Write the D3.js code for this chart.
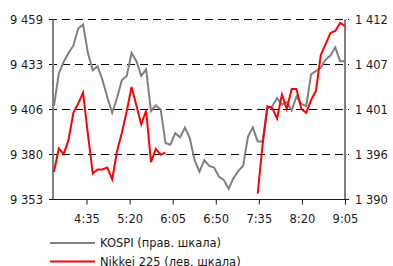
<!DOCTYPE html>
<html>
<head>
<meta charset="utf-8">
<script src="https://cdn.jsdelivr.net/npm/d3@7"></script>
<style>
  body { margin: 0; background: #fff; }
  text { font-family: "DejaVu Sans", Verdana, sans-serif; font-size: 11.5px; fill: #1a1a1a; }
</style>
</head>
<body>
<div id="chart"></div>
<script>
// data (5-minute samples, Moscow time)
var firstTime = "4:01", lastTime = "9:05";
var tickTimes = ["4:35", "5:20", "6:05", "6:50", "7:35", "8:20", "9:05"];
var leftTicks = [9353, 9379.5, 9406, 9432.5, 9459];
var rightTicks = [1390, 1395.5, 1401, 1406.5, 1412];

var kospi = [1401.4, 1405.4, 1406.8, 1407.9, 1408.8, 1410.9, 1411.4, 1407.9, 1405.8, 1406.3,
  1404.6, 1402.5, 1400.6, 1402.4, 1404.6, 1405.1, 1407.9, 1406.9, 1405.1, 1405.9,
  1400.8, 1401.5, 1401.0, 1396.9, 1396.7, 1398.1, 1397.6, 1398.8, 1397.5, 1394.8,
  1393.4, 1394.8, 1394.1, 1393.9, 1392.8, 1392.4, 1391.3, 1392.6, 1393.5, 1394.1,
  1397.7, 1398.8, 1397.1, 1397.1, 1401.1, 1401.4, 1402.4, 1401.6, 1401.9, 1400.9,
  1402.6, 1401.7, 1401.4, 1405.3, 1405.7, 1406.1, 1407.1, 1407.6, 1408.6, 1406.9, 1406.9];

var nikkei = [9369.3, 9383, 9379.7, 9388.1, 9404, 9409.5, 9415.9, 9391.5, 9368.3, 9370.7,
  9370.7, 9371.8, 9364.8, 9381.4, 9392.3, 9405, 9419.3, 9408.2, 9397.3, 9405.3,
  9375, 9382.8, 9379.4, 9380.6, null, null, null, null, null, null,
  null, null, null, null, null, null, null, null, null, null,
  null, null, 9356.5, 9385, 9407.9, 9406.9, 9400.7, 9414.8, 9406.2, 9418.1,
  9418.1, 9406.3, 9404, 9411.5, 9417, 9438, 9444.5, 9451.1, 9452.2, 9457, 9455.1];

var legendItems = ["KOSPI (прав. шкала)", "Nikkei 225 (лев. шкала)"];
var colors = ["#808080", "#ff0000"];

// margins
var margin = {top: 19.5, right: 48, bottom: 66.5, left: 53},
  width = 393 - margin.left - margin.right,
  height = 266 - margin.top - margin.bottom;

var parse = d3.timeParse("%H:%M");
var fmtNum = d3.formatLocale({decimal: ",", thousands: " ", grouping: [3], currency: ["", ""]}).format(",d");

var x = d3.scaleTime().domain([parse("4:00"), parse("9:05")]).range([0, width]);
var yL = d3.scaleLinear().domain([9353, 9459]).range([height, 0]);
var yR = d3.scaleLinear().domain([1390, 1412]).range([height, 0]);

// sample times, evenly spread between first and last sample
var sampleTime = d3.scaleLinear().domain([0, kospi.length - 1])
  .range([parse(firstTime).getTime(), parse(lastTime).getTime()]);

var svg = d3.select("#chart").append("svg")
    .attr("width", 393)
    .attr("height", 266)
  .append("g")
    .attr("transform", `translate(${margin.left}, ${margin.top})`);

// dashed grid lines
svg.selectAll("line.grid")
    .data(leftTicks)
  .enter().append("line")
    .attr("x1", -4).attr("x2", width + 4)
    .attr("y1", d => yL(d)).attr("y2", d => yL(d))
    .attr("stroke", "#000")
    .attr("stroke-width", 1)
    .attr("stroke-dasharray", "8,5");

// left labels
svg.selectAll("text.left")
    .data(leftTicks)
  .enter().append("text")
    .attr("x", -10)
    .attr("y", d => yL(d))
    .attr("dy", "0.36em")
    .style("text-anchor", "end")
    .text(d => fmtNum(Math.round(d)));

// right labels
svg.selectAll("text.right")
    .data(rightTicks)
  .enter().append("text")
    .attr("x", width + 10)
    .attr("y", d => yR(d))
    .attr("dy", "0.36em")
    .text(d => fmtNum(Math.round(d)));

// vertical axis lines
svg.append("line")
    .attr("x1", 0).attr("x2", 0).attr("y1", 0).attr("y2", height)
    .attr("stroke", "#808080").attr("stroke-width", 2);
svg.append("line")
    .attr("x1", width).attr("x2", width).attr("y1", 0).attr("y2", height)
    .attr("stroke", "#808080").attr("stroke-width", 2);

// bottom axis
var xAxis = svg.append("g")
    .attr("transform", `translate(0, ${height})`)
    .call(d3.axisBottom(x)
        .tickValues(tickTimes.map(parse))
        .tickFormat(d3.timeFormat("%-H:%M"))
        .tickSize(5)
        .tickSizeOuter(0)
        .tickPadding(10));
xAxis.select(".domain").attr("stroke", "#1a1a1a").attr("d", `M-4,0H${width + 4}`);
xAxis.selectAll(".tick line").attr("stroke", "#1a1a1a");
xAxis.selectAll("text").attr("font-family", null).attr("font-size", null).attr("fill", null);
xAxis.attr("font-family", null).attr("font-size", null);

// lines
var kospiLine = d3.line()
    .x((d, i) => x(sampleTime(i)))
    .y(d => yR(d));
var nikkeiLine = d3.line()
    .defined(d => d != null)
    .x((d, i) => x(sampleTime(i)))
    .y(d => yL(d));

svg.append("path")
    .datum(kospi)
    .attr("fill", "none")
    .attr("stroke", colors[0])
    .attr("stroke-width", 2)
    .attr("d", kospiLine);

svg.append("path")
    .datum(nikkei)
    .attr("fill", "none")
    .attr("stroke", colors[1])
    .attr("stroke-width", 2)
    .attr("d", nikkeiLine);

// legend
var legend = svg.selectAll("g.legend")
    .data(legendItems)
  .enter().append("g")
    .attr("transform", (d, i) => `translate(-3, ${height + 43.5 + 18.5 * i})`);
legend.append("line")
    .attr("x1", 0).attr("x2", 45)
    .attr("stroke", (d, i) => colors[i])
    .attr("stroke-width", 2);
legend.append("text")
    .attr("x", 50)
    .attr("dy", "0.36em")
    .text(d => d);
</script>
</body>
</html>
